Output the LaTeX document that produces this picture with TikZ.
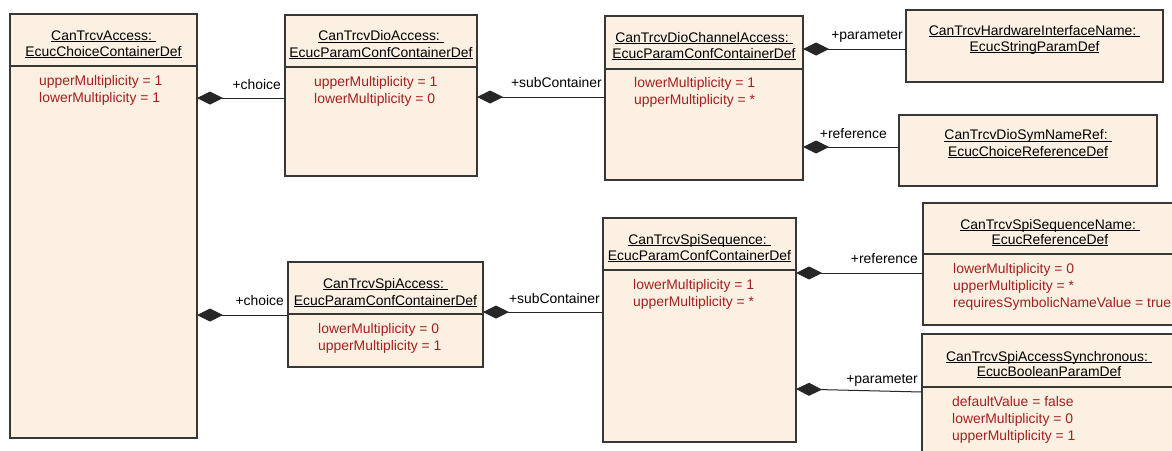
\documentclass[tikz,border=0pt]{standalone}
\usepackage{fontspec}
\setmainfont{Liberation Sans}
\usetikzlibrary{arrows.meta}
\definecolor{boxfill}{RGB}{251,240,226}
\definecolor{attrred}{RGB}{165,32,32}
\definecolor{edgegray}{RGB}{55,55,55}
\newcommand\myul[1]{\setbox0=\hbox{#1}\rlap{\rule[-2.2pt]{\wd0}{0.8pt}}\box0}
\begin{document}
\begin{tikzpicture}[x=1pt,y=-1pt,
  umlbox/.style={draw=edgegray, line width=1.1pt, fill=boxfill, anchor=north west, inner sep=0pt, outer sep=0pt},
  sepline/.style={draw=edgegray, line width=1.1pt},
  ttl/.style={anchor=base, inner sep=0pt, font=\fontsize{13.9}{17}\selectfont},
  attrtxt/.style={anchor=base west, inner sep=0pt, text=attrred, font=\fontsize{13.9}{17}\selectfont},
  lbl/.style={anchor=base east, inner sep=0pt, font=\fontsize{13.9}{17}\selectfont},
  comp/.style={draw=black!85, line width=1pt, {Diamond[length=26pt,width=13pt]}-}
]
\clip (0,0) rectangle (1172,450);
\fill[white] (0,0) rectangle (1172,450);

% ---- boxes
\node[umlbox, minimum width=187pt, minimum height=424pt] (A) at (10,14) {};
\node[umlbox, minimum width=192pt, minimum height=161pt] (B) at (285,15) {};
\node[umlbox, minimum width=198pt, minimum height=164pt] (C) at (605,16) {};
\node[umlbox, minimum width=257pt, minimum height=72pt] (D) at (906,10) {};
\node[umlbox, minimum width=258pt, minimum height=71pt] (E) at (899,115) {};
\node[umlbox, minimum width=195pt, minimum height=105pt] (F) at (288,262) {};
\node[umlbox, minimum width=193pt, minimum height=224pt] (G) at (603,218) {};
\node[umlbox, minimum width=254pt, minimum height=122pt] (H) at (923,203) {};
\node[umlbox, minimum width=254pt, minimum height=130pt] (I) at (922,334) {};

% ---- separators
\draw[sepline] (A.west |- 0,66) -- (A.east |- 0,66);
\draw[sepline] (B.west |- 0,67) -- (B.east |- 0,67);
\draw[sepline] (C.west |- 0,69) -- (C.east |- 0,69);
\draw[sepline] (F.west |- 0,314) -- (F.east |- 0,314);
\draw[sepline] (G.west |- 0,270) -- (G.east |- 0,270);
\draw[sepline] (H.west |- 0,254) -- (H.east |- 0,254);
\draw[sepline] (I.west |- 0,387) -- (I.east |- 0,387);

% ---- titles
\node[ttl] (A1) at (A.north |- 0,40) {\myul{CanTrcvAccess:\ }};
\node[ttl] (A2) at (A.north |- 0,56) {\myul{EcucChoiceContainerDef}};
\node[ttl] (B1) at (B.north |- 0,40.5) {\myul{CanTrcvDioAccess:\ }};
\node[ttl] (B2) at (B.north |- 0,57) {\myul{EcucParamConfContainerDef}};
\node[ttl] (C1) at (C.north |- 0,42) {\myul{CanTrcvDioChannelAccess:\ }};
\node[ttl] (C2) at (C.north |- 0,58) {\myul{EcucParamConfContainerDef}};
\node[ttl] (D1) at (D.north |- 0,35) {\myul{CanTrcvHardwareInterfaceName:\ }};
\node[ttl] (D2) at (D.north |- 0,51) {\myul{EcucStringParamDef}};
\node[ttl] (E1) at (E.north |- 0,139.5) {\myul{CanTrcvDioSymNameRef:\ }};
\node[ttl] (E2) at (E.north |- 0,156) {\myul{EcucChoiceReferenceDef}};
\node[ttl] (F1) at (F.north |- 0,288) {\myul{CanTrcvSpiAccess:\ }};
\node[ttl] (F2) at (F.north |- 0,305) {\myul{EcucParamConfContainerDef}};
\node[ttl] (G1) at (G.north |- 0,244) {\myul{CanTrcvSpiSequence:\ }};
\node[ttl] (G2) at (G.north |- 0,260) {\myul{EcucParamConfContainerDef}};
\node[ttl] (H1) at (H.north |- 0,229) {\myul{CanTrcvSpiSequenceName:\ }};
\node[ttl] (H2) at (H.north |- 0,244) {\myul{EcucReferenceDef}};
\node[ttl] (I1) at (I.north |- 0,361) {\myul{CanTrcvSpiAccessSynchronous:\ }};
\node[ttl] (I2) at (I.north |- 0,376) {\myul{EcucBooleanParamDef}};

% ---- attributes
\node[attrtxt] (A3) at (39,85) {upperMultiplicity = 1};
\node[attrtxt] (A4) at (39,102) {lowerMultiplicity = 1};
\node[attrtxt] (B3) at (314,86) {upperMultiplicity = 1};
\node[attrtxt] (B4) at (314,103) {lowerMultiplicity = 0};
\node[attrtxt] (C3) at (634,87) {lowerMultiplicity = 1};
\node[attrtxt] (C4) at (634,104) {upperMultiplicity = *};
\node[attrtxt] (F3) at (318,333) {lowerMultiplicity = 0};
\node[attrtxt] (F4) at (318,350) {upperMultiplicity = 1};
\node[attrtxt] (G3) at (633,289) {lowerMultiplicity = 1};
\node[attrtxt] (G4) at (633,306) {upperMultiplicity = *};
\node[attrtxt] (H3) at (953,273) {lowerMultiplicity = 0};
\node[attrtxt] (H4) at (953,290) {upperMultiplicity = *};
\node[attrtxt] (H5) at (953,307) {requiresSymbolicNameValue = true};
\node[attrtxt] (I3) at (952,406) {defaultValue = false};
\node[attrtxt] (I4) at (952,423) {lowerMultiplicity = 0};
\node[attrtxt] (I5) at (952,440) {upperMultiplicity = 1};

% ---- connectors
\draw[comp] (A.east |- 0,98) -- (B.west |- 0,98);
\node[lbl] (L1) at (281,89) {+choice};
\draw[comp] (B.east |- 0,97) -- (C.west |- 0,97);
\node[lbl] (L2) at (602,87) {+subContainer};
\draw[comp] (C.east |- 0,49) -- (D.west |- 0,49);
\node[lbl] (L3) at (903,39) {+parameter};
\draw[comp] (C.east |- 0,147) -- (E.west |- 0,147);
\node[lbl] (L4) at (887,138) {+reference};
\draw[comp] (A.east |- 0,315) -- (F.west |- 0,315);
\node[lbl] (L5) at (284,305) {+choice};
\draw[comp] (F.east |- 0,312) -- (G.west |- 0,312);
\node[lbl] (L6) at (600,303) {+subContainer};
\draw[comp] (G.east |- 0,273) -- (H.west |- 0,273);
\node[lbl] (L7) at (918,263) {+reference};
\draw[comp] (G.east |- 0,389) -- (I.west |- 0,392);
\node[lbl] (L8) at (918,383) {+parameter};
\end{tikzpicture}
\end{document}
